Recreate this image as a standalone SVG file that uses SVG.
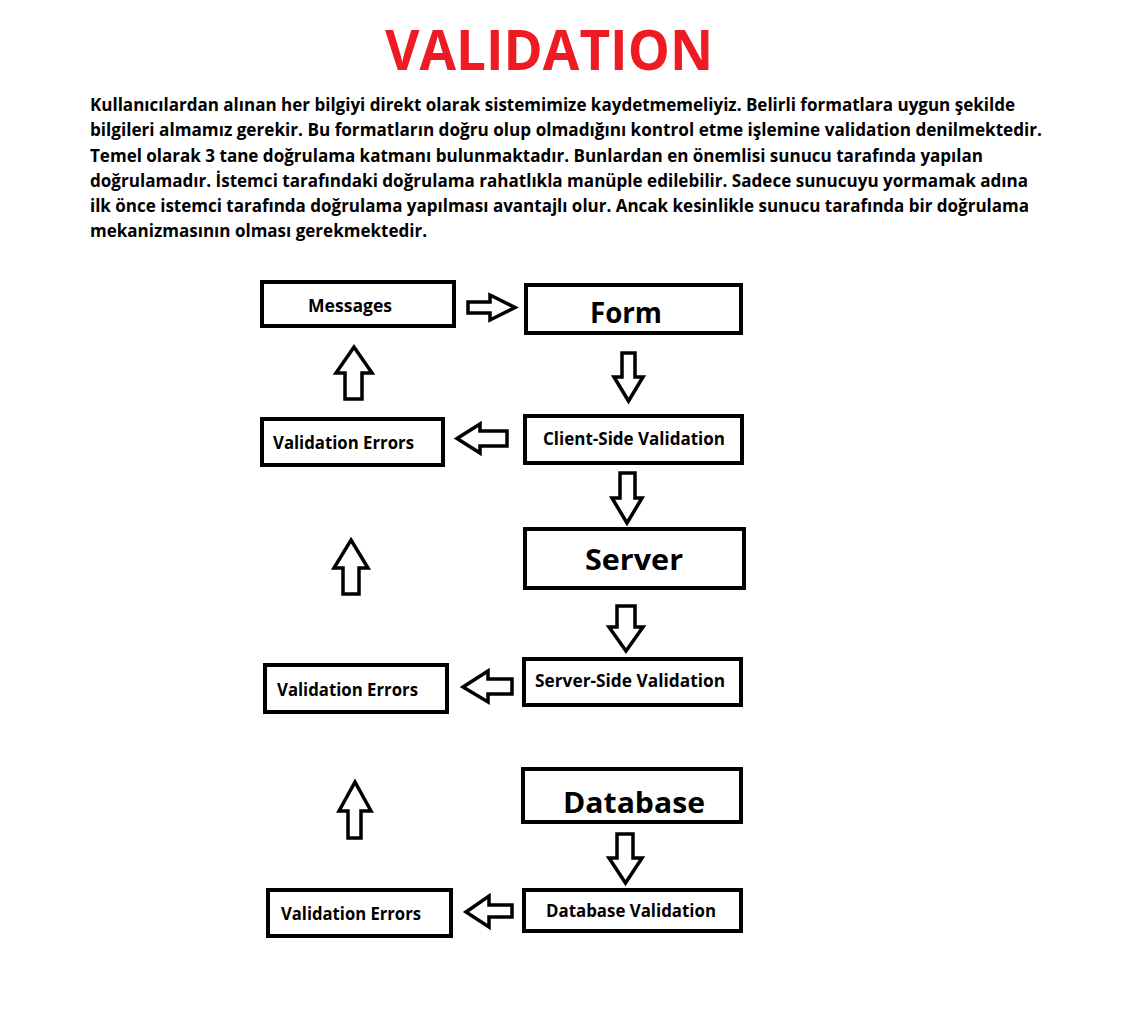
<svg xmlns="http://www.w3.org/2000/svg" width="1126" height="1020" viewBox="0 0 1126 1020">
<style>
.box{fill:#fff;stroke:#000;stroke-width:4}
.arr{fill:#fff;stroke:#000;stroke-width:3.5;stroke-linejoin:miter}
.t{font-family:"Open Sans","Liberation Sans",sans-serif;font-weight:bold;fill:#000}
.s{font-size:17.5px}
.b{font-size:29px}
.p{font-family:"Open Sans","Liberation Sans",sans-serif;font-weight:bold;font-size:18px;fill:#000}
</style>
<rect width="1126" height="1020" fill="#fff"/>
<text x="385" y="70" font-family="Open Sans, Liberation Sans, sans-serif" font-weight="bold" font-size="56" fill="#ed1c24" textLength="328" lengthAdjust="spacingAndGlyphs">VALIDATION</text>
<g id="paragraph">
<text class="p" x="90" y="111" textLength="925" lengthAdjust="spacingAndGlyphs">Kullanıcılardan alınan her bilgiyi direkt olarak sistemimize kaydetmemeliyiz. Belirli formatlara uygun şekilde</text>
<text class="p" x="90" y="136" textLength="952" lengthAdjust="spacingAndGlyphs">bilgileri almamız gerekir. Bu formatların doğru olup olmadığını kontrol etme işlemine validation denilmektedir.</text>
<text class="p" x="90" y="162" textLength="893" lengthAdjust="spacingAndGlyphs">Temel olarak 3 tane doğrulama katmanı bulunmaktadır. Bunlardan en önemlisi sunucu tarafında yapılan</text>
<text class="p" x="90" y="187" textLength="938" lengthAdjust="spacingAndGlyphs">doğrulamadır. İstemci tarafındaki doğrulama rahatlıkla manüple edilebilir. Sadece sunucuyu yormamak adına</text>
<text class="p" x="90" y="212" textLength="939" lengthAdjust="spacingAndGlyphs">ilk önce istemci tarafında doğrulama yapılması avantajlı olur. Ancak kesinlikle sunucu tarafında bir doğrulama</text>
<text class="p" x="90" y="237" textLength="337" lengthAdjust="spacingAndGlyphs">mekanizmasının olması gerekmektedir.</text>
</g>
<g id="messages"><rect class="box" x="262" y="282" width="192" height="44"/><text class="t s" x="308" y="312" textLength="84" lengthAdjust="spacingAndGlyphs">Messages</text></g>
<g id="form"><rect class="box" x="526" y="285" width="215" height="48"/><text class="t b" x="590" y="323" textLength="72" lengthAdjust="spacingAndGlyphs">Form</text></g>
<g id="client-side-validation"><rect class="box" x="525" y="416" width="217" height="47"/><text class="t s" x="543" y="445" textLength="182" lengthAdjust="spacingAndGlyphs">Client-Side Validation</text></g>
<g id="validation-errors-1"><rect class="box" x="262" y="419" width="181" height="46"/><text class="t s" x="273" y="449" textLength="141" lengthAdjust="spacingAndGlyphs">Validation Errors</text></g>
<g id="server"><rect class="box" x="525" y="529" width="219" height="59"/><text class="t b" x="585" y="570" textLength="98" lengthAdjust="spacingAndGlyphs">Server</text></g>
<g id="server-side-validation"><rect class="box" x="524" y="659" width="217" height="46"/><text class="t s" x="535" y="687" textLength="190" lengthAdjust="spacingAndGlyphs">Server-Side Validation</text></g>
<g id="validation-errors-2"><rect class="box" x="265" y="665" width="182" height="47"/><text class="t s" x="277" y="696" textLength="141" lengthAdjust="spacingAndGlyphs">Validation Errors</text></g>
<g id="database"><rect class="box" x="523" y="769" width="218" height="53"/><text class="t b" x="563" y="813" textLength="142" lengthAdjust="spacingAndGlyphs">Database</text></g>
<g id="database-validation"><rect class="box" x="524" y="890" width="217" height="41"/><text class="t s" x="546" y="917" textLength="170" lengthAdjust="spacingAndGlyphs">Database Validation</text></g>
<g id="validation-errors-3"><rect class="box" x="268" y="890" width="183" height="46"/><text class="t s" x="281" y="920" textLength="140" lengthAdjust="spacingAndGlyphs">Validation Errors</text></g>
<g id="connectors">
<polygon class="arr" points="468,302 490,302 490,295 515,307.5 490,320 490,313 468,313"/>
<polygon class="arr" points="622,353 635,353 635,377 643,377 628.5,401 614,377 622,377"/>
<polygon class="arr" points="457,438.5 480,424 480,431 507,431 507,446 480,446 480,453"/>
<polygon class="arr" points="354,347 372,373 362,373 362,399 345,399 345,373 336,373"/>
<polygon class="arr" points="620,473 635,473 635,498 642,498 627,523 612,498 620,498"/>
<polygon class="arr" points="351,540 368,568 359,568 359,594 343,594 343,568 334,568"/>
<polygon class="arr" points="617,606 635,606 635,627 643,627 626,651 609,627 617,627"/>
<polygon class="arr" points="463,687 488,671 488,679 512,679 512,694 488,694 488,702"/>
<polygon class="arr" points="355,782 371,811 361,811 361,838 348,838 348,811 339,811"/>
<polygon class="arr" points="617,834 633,834 633,858 642,858 625.5,883 609,858 617,858"/>
<polygon class="arr" points="466,912 489,896 489,905 512,905 512,917 489,917 489,927"/>
</g>
</svg>
